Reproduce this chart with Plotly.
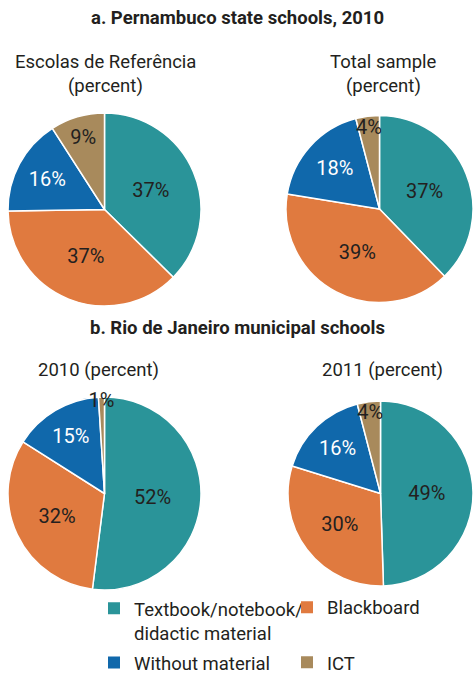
import plotly.graph_objects as go

labels = ["Textbook/notebook/<br>didactic material", "Blackboard", "Without material", "ICT"]
colors = ["#2a9499", "#e07a3f", "#1068ab", "#a88a5c"]
escolas_2010 = [37, 37, 16, 9]
total_2010 = [37, 39, 18, 4]
rio_2010 = [52, 32, 15, 1]
rio_2011 = [49, 30, 16, 4]

W, H = 473, 675
FONT = "Roboto, Arial"
DARK = "#231f20"
FS = 18.5

def dom(x0, x1, ytop, ybot):
    return dict(x=[x0 / W, x1 / W], y=[1 - ybot / H, 1 - ytop / H])

fig = go.Figure()
pies = [
    (escolas_2010, dom(8, 201, 113, 306)),
    (total_2010, dom(286, 473, 113, 305)),
    (rio_2010, dom(8, 201, 397, 590)),
    (rio_2011, dom(288, 473, 397, 590)),
]
for vals, d in pies:
    fig.add_trace(go.Pie(
        labels=labels, values=vals, domain=d, sort=False,
        direction="clockwise", rotation=0,
        marker=dict(colors=colors, line=dict(color="white", width=1.5)),
        texttemplate="%{value}%", textposition="inside",
        insidetextorientation="horizontal",
        textfont=dict(family=FONT, size=20, color=[DARK, DARK, "white", DARK]),
        showlegend=False, hoverinfo="label+value",
    ))

# legend entries (two columns)
legend_cols = ["legend", "legend2", "legend", "legend2"]
for lab, col, lg in zip(labels, colors, legend_cols):
    fig.add_trace(go.Scatter(
        x=[None], y=[None], mode="markers", name=lab, legend=lg, legendgroup=lab,
        marker=dict(symbol="square", size=16, color=col), hoverinfo="skip",
    ))
fig.update_xaxes(visible=False)
fig.update_yaxes(visible=False)

def txt(x, y, s, size=FS, bold=False):
    fig.add_annotation(x=x / W, y=1 - y / H, xref="paper", yref="paper",
                       text=f"<b>{s}</b>" if bold else s, showarrow=False,
                       font=dict(family=FONT, size=size, color=DARK),
                       xanchor="center", yanchor="middle")

txt(237, 18, "a. Pernambuco state schools, 2010", bold=True)
txt(105, 62, "Escolas de Referência")
txt(105, 86, "(percent)")
txt(383, 62, "Total sample")
txt(383, 86, "(percent)")
txt(237, 328, "b. Rio de Janeiro municipal schools", bold=True)
txt(98, 370, "2010 (percent)")
txt(382, 370, "2011 (percent)")

leg_common = dict(yanchor="bottom", y=-0.01, xanchor="left", traceorder="grouped", valign="top",
                  font=dict(family=FONT, size=FS, color=DARK), itemsizing="constant",
                  bgcolor="rgba(0,0,0,0)")
fig.update_layout(
    width=W, height=H, margin=dict(l=0, r=0, t=0, b=0, autoexpand=False),
    paper_bgcolor="white", plot_bgcolor="white",
    font=dict(family=FONT, size=FS, color=DARK),
    uniformtext=dict(minsize=20, mode="show"),
    showlegend=True,
    legend=dict(x=94 / W, tracegroupgap=3, **leg_common),
    legend2=dict(x=287 / W, tracegroupgap=28, **leg_common),
)
fig.write_html("out.html", config={"displayModeBar": False},
               post_script="document.body.style.margin='0';")
